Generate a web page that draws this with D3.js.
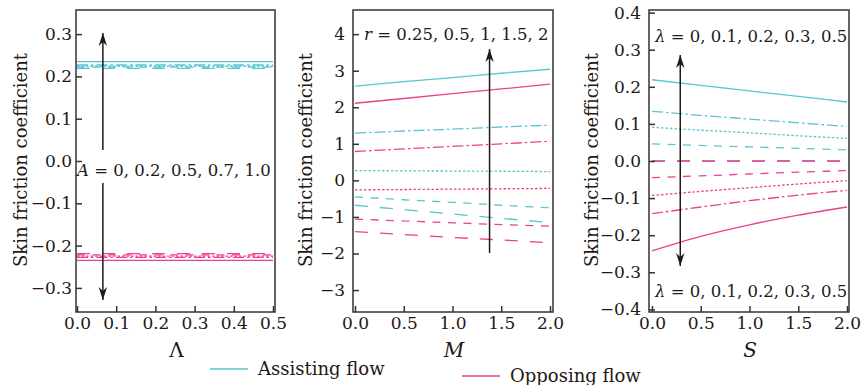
<!DOCTYPE html>
<html>
<head>
<meta charset="utf-8">
<script src="https://cdn.jsdelivr.net/npm/d3@7/dist/d3.min.js"></script>
<style>
    body { margin: 0; background: #fff; }
    text { font-family: "DejaVu Serif", serif; fill: #231815; }
</style>
</head>
<body>
<svg id="chart" width="862" height="385"></svg>
<script>
// ---------- data ----------
// line styles, one per curve, lowest parameter value first
var lineStyles = ["longdash", "dash", "dot", "dashdot", "solid"];

// panel 1 : Lambda
var lamX = [0, 0.1, 0.2, 0.3, 0.4, 0.5];
var lamAssist = [
    [0.219, 0.219, 0.219, 0.219, 0.219, 0.219],
    [0.222, 0.222, 0.222, 0.222, 0.222, 0.222],
    [0.224, 0.224, 0.224, 0.224, 0.224, 0.224],
    [0.227, 0.227, 0.227, 0.227, 0.227, 0.227],
    [0.235, 0.235, 0.235, 0.235, 0.235, 0.235]
];
var lamOppose = [
    [-0.219, -0.219, -0.219, -0.219, -0.219, -0.219],
    [-0.222, -0.222, -0.222, -0.222, -0.222, -0.222],
    [-0.225, -0.225, -0.225, -0.225, -0.225, -0.225],
    [-0.228, -0.228, -0.228, -0.228, -0.228, -0.228],
    [-0.235, -0.235, -0.235, -0.235, -0.235, -0.235]
];

// panel 2 : M, r = 0.25, 0.5, 1, 1.5, 2
var mX = [0, 0.5, 1, 1.5, 2];
var mAssist = [
    [-0.68, -0.80, -0.92, -1.04, -1.15],
    [-0.45, -0.53, -0.60, -0.68, -0.75],
    [0.27, 0.26, 0.255, 0.25, 0.24],
    [1.29, 1.35, 1.40, 1.46, 1.51],
    [2.58, 2.70, 2.81, 2.93, 3.04]
];
var mOppose = [
    [-1.40, -1.48, -1.56, -1.63, -1.71],
    [-1.06, -1.11, -1.16, -1.21, -1.25],
    [-0.26, -0.25, -0.24, -0.23, -0.22],
    [0.79, 0.86, 0.93, 1.00, 1.07],
    [2.11, 2.24, 2.37, 2.50, 2.63]
];

// panel 3 : S, lambda = 0, 0.1, 0.2, 0.3, 0.5
var sX = [0, 0.5, 1, 1.5, 2];
var sAssist = [
    [0, 0, 0, 0, 0],
    [0.046, 0.042, 0.038, 0.034, 0.030],
    [0.091, 0.083, 0.076, 0.068, 0.061],
    [0.134, 0.123, 0.113, 0.103, 0.093],
    [0.219, 0.204, 0.189, 0.174, 0.159]
];
var sOppose = [
    [0, 0, 0, 0, 0],
    [-0.045, -0.040, -0.035, -0.030, -0.026],
    [-0.093, -0.082, -0.072, -0.062, -0.053],
    [-0.142, -0.124, -0.107, -0.092, -0.079],
    [-0.242, -0.203, -0.172, -0.146, -0.124]
];

var lamTicks = [0, 0.1, 0.2, 0.3, 0.4, 0.5];
var mSTicks = [0, 0.5, 1, 1.5, 2];
var p1YTicks = [-0.3, -0.2, -0.1, 0, 0.1, 0.2, 0.3];
var p2YTicks = [-3, -2, -1, 0, 1, 2, 3, 4];
var p3YTicks = [-0.4, -0.3, -0.2, -0.1, 0, 0.1, 0.2, 0.3, 0.4];

// ---------- look ----------
var assistColor = "#58c6d1";
var opposeColor = "#ec3f92";
var inkColor = "#231815";
var dashes = {
    longdash: "13,12",
    dash: "8,7.5",
    dot: "2.5,2",
    dashdot: "11,3,2.5,3",
    solid: null
};

var svg = d3.select("#chart");

// arrow head
var defs = svg.append("defs");
defs.append("marker")
    .attr("id", "head")
    .attr("viewBox", "-14 -5 15 10")
    .attr("refX", 0)
    .attr("refY", 0)
    .attr("markerWidth", 15)
    .attr("markerHeight", 10)
    .attr("markerUnits", "userSpaceOnUse")
    .attr("orient", "auto-start-reverse")
  .append("path")
    .attr("d", "M0,0L-13,-4.2L-9,0L-13,4.2Z")
    .attr("fill", inkColor);

var panels = [
    { left: 76, right: 275, x0: 77, x1: 273, xDomain: [0, 0.5], yDomain: [-0.357, 0.357],
      xs: lamX, assist: lamAssist, oppose: lamOppose, xTicks: lamTicks, yTicks: p1YTicks,
      yFmt: ".1f", pad: 4, xLabel: "Λ", italic: false, titleX: 20 },
    { left: 353, right: 553, x0: 355, x1: 550, xDomain: [0, 2], yDomain: [-3.6, 4.66],
      xs: mX, assist: mAssist, oppose: mOppose, xTicks: mSTicks, yTicks: p2YTicks,
      yFmt: "d", pad: 8, xLabel: "M", italic: true, titleX: 305 },
    { left: 649, right: 849, x0: 652, x1: 847, xDomain: [0, 2], yDomain: [-0.407, 0.407],
      xs: sX, assist: sAssist, oppose: sOppose, xTicks: mSTicks, yTicks: p3YTicks,
      yFmt: ".1f", pad: 8, xLabel: "S", italic: true, titleX: 591 }
];
var plotTop = 10, plotBottom = 312;

panels.forEach(function(p) {
    var x = d3.scaleLinear().domain(p.xDomain).range([p.x0, p.x1]);
    var y = d3.scaleLinear().domain(p.yDomain).range([plotBottom, plotTop]);
    p.x = x; p.y = y;

    var line = d3.line()
        .x(function(d, i) { return x(p.xs[i]); })
        .y(function(d) { return y(d); })
        .curve(d3.curveMonotoneX);

    // curves: assisting first, opposing on top
    [[p.assist, assistColor], [p.oppose, opposeColor]].forEach(function(set) {
        set[0].forEach(function(vals, k) {
            svg.append("path")
                .datum(vals)
                .attr("d", line)
                .attr("fill", "none")
                .attr("stroke", set[1])
                .attr("stroke-width", 1.3)
                .attr("stroke-dasharray", dashes[lineStyles[k]]);
        });
    });

    // axes, ticks pointing inward
    var xAxis = svg.append("g")
        .attr("transform", "translate(0," + plotBottom + ")")
        .call(d3.axisBottom(x).tickValues(p.xTicks).tickFormat(d3.format(".1f"))
            .tickSizeInner(-6).tickSizeOuter(0).tickPadding(5));
    var yAxis = svg.append("g")
        .attr("transform", "translate(" + p.left + ",0)")
        .call(d3.axisLeft(y).tickValues(p.yTicks).tickFormat(d3.format(p.yFmt))
            .tickSizeInner(-6).tickSizeOuter(0).tickPadding(p.pad));
    [xAxis, yAxis].forEach(function(g) {
        g.select(".domain").remove();
        g.selectAll(".tick line").attr("stroke", "#333").attr("stroke-width", 1.5);
        g.selectAll(".tick text")
            .attr("fill", inkColor)
            .style("font-family", "DejaVu Serif, serif")
            .style("font-size", "17px");
    });

    // frame
    svg.append("rect")
        .attr("x", p.left)
        .attr("y", plotTop)
        .attr("width", p.right - p.left)
        .attr("height", plotBottom - plotTop)
        .attr("fill", "none")
        .attr("stroke", "#333")
        .attr("stroke-width", 1.5);

    // axis titles
    svg.append("text")
        .attr("x", (p.left + p.right) / 2 + 1)
        .attr("y", 357)
        .attr("text-anchor", "middle")
        .style("font-size", "20px")
        .style("font-style", p.italic ? "italic" : "normal")
        .text(p.xLabel);

    svg.append("text")
        .attr("transform", "translate(" + p.titleX + "," + 160 + ") rotate(-90)")
        .attr("dy", "0.38em")
        .attr("text-anchor", "middle")
        .style("font-size", "18px")
        .text("Skin friction coefficient");
});

function arrow(x1, y1, x2, y2, both) {
    svg.append("line")
        .attr("x1", x1).attr("y1", y1)
        .attr("x2", x2).attr("y2", y2)
        .attr("stroke", inkColor)
        .attr("stroke-width", 1.5)
        .attr("marker-end", "url(#head)")
        .attr("marker-start", both ? "url(#head)" : null);
}

function label(x, y, sym, rest) {
    var t = svg.append("text")
        .attr("x", x)
        .attr("y", y)
        .style("font-size", "16.5px");
    t.append("tspan").style("font-style", "italic").text(sym);
    t.append("tspan").text(rest);
}

// panel annotations
var p1 = panels[0], p2 = panels[1], p3 = panels[2];
arrow(p1.x(0.066), 150, p1.x(0.066), 33);
arrow(p1.x(0.066), 183, p1.x(0.066), 300);
label(77, 176, "A", " = 0, 0.2, 0.5, 0.7, 1.0");

arrow(p2.x(1.38), 253, p2.x(1.38), 49);
label(364, 40, "r", " = 0.25, 0.5, 1, 1.5, 2");

arrow(p3.x(0.29), 160, p3.x(0.29), 55);
arrow(p3.x(0.29), 160, p3.x(0.29), 266);
label(655, 42, "λ", " = 0, 0.1, 0.2, 0.3, 0.5");
label(655, 297, "λ", " = 0, 0.1, 0.2, 0.3, 0.5");

// legend
var legend = [
    { name: "Assisting flow", color: assistColor, x: 210, y: 369 },
    { name: "Opposing flow", color: opposeColor, x: 462, y: 376 }
];
legend.forEach(function(d) {
    svg.append("line")
        .attr("x1", d.x).attr("x2", d.x + 38)
        .attr("y1", d.y).attr("y2", d.y)
        .attr("stroke", d.color)
        .attr("stroke-width", 1.3);
    svg.append("text")
        .attr("x", d.x + 48)
        .attr("y", d.y + 6)
        .style("font-size", "18px")
        .text(d.name);
});
</script>
</body>
</html>
